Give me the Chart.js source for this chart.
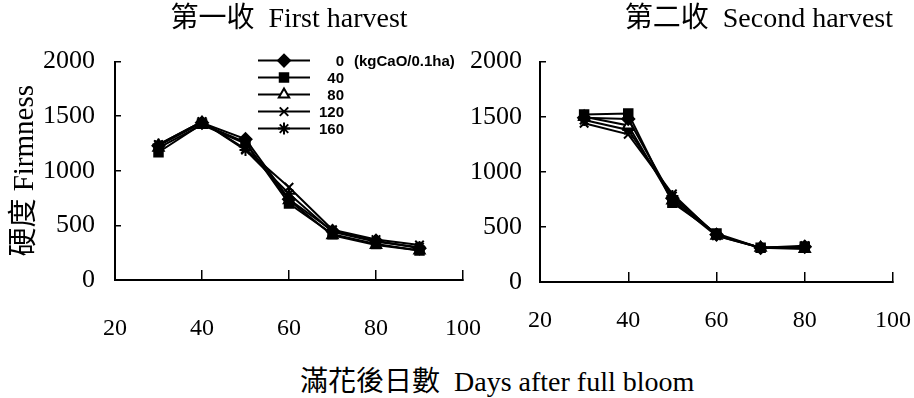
<!DOCTYPE html>
<html>
<head>
<meta charset="utf-8">
<script src="https://cdn.jsdelivr.net/npm/chart.js@4"></script>
<style>
  body { margin: 0; background: #fff; width: 914px; height: 398px; position: relative; overflow: hidden; }
  #c1 { position: absolute; left: 0; top: 0; }
  #c2 { position: absolute; left: 440px; top: 0; }
  #xtitle { position: absolute; left: 300px; top: 364px; font: 28px/36px "Liberation Serif", "Noto Sans CJK TC"; color: #000; white-space: nowrap; }
</style>
</head>
<body>
<canvas id="c1" width="525" height="350"></canvas>
<canvas id="c2" width="505" height="350"></canvas>
<div id="xtitle">滿花後日數&nbsp; Days after full bloom</div>
<script>
// days after full bloom
const days1 = [30, 40, 50, 60, 70, 80, 90];
const days2 = [30, 40, 50, 60, 70, 80];
// lime rates (kgCaO/0.1ha)
const rates = ["0", "40", "80", "120", "160"];

// first harvest firmness
const first0 = [1230, 1440, 1290, 740, 450, 360, 290];
const first40 = [1170, 1430, 1260, 700, 420, 330, 270];
const first80 = [1210, 1420, 1250, 730, 410, 320, 270];
const first120 = [1240, 1450, 1200, 850, 460, 370, 320];
const first160 = [1240, 1450, 1190, 790, 440, 350, 300];

// second harvest firmness
const second0 = [1490, 1480, 760, 430, 310, 320];
const second40 = [1520, 1530, 720, 440, 310, 320];
const second80 = [1500, 1420, 740, 420, 310, 300];
const second120 = [1440, 1340, 800, 420, 310, 330];
const second160 = [1470, 1380, 780, 430, 310, 320];

const styles = ["rectRot", "rect", "triangle", "crossRot", "star"];
const fills = ["#000", "#000", "#fff", "#000", "#000"];

const serif = '"Liberation Serif", "Noto Sans CJK TC", serif';

function makeSets(days, series) {
  return series.map((vals, i) => ({
    label: rates[i],
    data: vals.map((v, j) => ({ x: days[j], y: v })),
    borderColor: "#000",
    borderWidth: 2,
    pointStyle: styles[i],
    pointRadius: 6,
    pointBackgroundColor: fills[i],
    pointBorderColor: "#000",
    pointBorderWidth: 2,
    tension: 0,
  }));
}

// legend drawn as line + marker, inside the first chart
const lineLegend = {
  id: "lineLegend",
  afterDatasetsDraw(chart) {
    if (!chart.options.plugins.lineLegend.show) return;
    const ctx = chart.ctx;
    const a = chart.chartArea;
    ctx.save();
    chart.data.datasets.forEach((ds, i) => {
      const y = a.top - 1 + i * 17;
      const x0 = a.left + 143;
      ctx.strokeStyle = "#000";
      ctx.lineWidth = 2;
      ctx.beginPath();
      ctx.moveTo(x0, y);
      ctx.lineTo(x0 + 52, y);
      ctx.stroke();
      ctx.fillStyle = ds.pointBackgroundColor;
      Chart.helpers.drawPoint(ctx, { pointStyle: ds.pointStyle, radius: ds.pointRadius, rotation: 0, borderWidth: 2 }, x0 + 26, y);
      ctx.fillStyle = "#000";
      ctx.font = 'bold 15px "Liberation Sans", sans-serif';
      ctx.textAlign = "right";
      ctx.textBaseline = "middle";
      ctx.fillText(ds.label, x0 + 86, y + 1);
      if (i === 0) {
        ctx.textAlign = "left";
        ctx.fillText("(kgCaO/0.1ha)", x0 + 96, y + 1);
      }
    });
    ctx.restore();
  },
};

function makeChart(id, days, series, opts) {
  return new Chart(document.getElementById(id), {
    type: "line",
    data: { datasets: makeSets(days, series) },
    plugins: [lineLegend],
    options: {
      responsive: false,
      animation: false,
      layout: { padding: 0 },
      plugins: {
        legend: { display: false },
        tooltip: { enabled: false },
        lineLegend: { show: opts.legend },
        title: {
          display: true,
          text: opts.title,
          fullSize: false,
          align: opts.titleAlign,
          color: "#000",
          font: { family: serif, size: 28, weight: "normal" },
          padding: { top: 3, bottom: 25 },
        },
      },
      scales: {
        x: {
          type: "linear",
          min: 20,
          max: 100,
          ticks: { stepSize: 20, color: "#000", font: { family: serif, size: 24 }, padding: opts.xPad, maxRotation: 0 },
          grid: { drawOnChartArea: false, drawTicks: true, tickLength: -10, color: "#000", lineWidth: 1.5 },
          border: { color: "#000", width: 2 },
          afterFit(s) { s.height = opts.xHeight; },
        },
        y: {
          min: 0,
          max: 2000,
          ticks: { stepSize: 500, color: "#000", font: { family: serif, size: 26 }, padding: opts.yPad, callback: (v) => String(v) },
          grid: { drawOnChartArea: false, drawTicks: true, tickLength: -6, color: "#000", lineWidth: 1.5 },
          border: { color: "#000", width: 2 },
          title: {
            display: opts.yTitle,
            text: "硬度 Firmness",
            color: "#000",
            font: { family: serif, size: 29 },
            padding: { top: 8, bottom: 0 },
          },
          afterFit(s) { s.width = opts.yWidth; },
        },
      },
    },
  });
}

makeChart("c1", days1, [first0, first40, first80, first120, first160], {
  title: "第一收  First harvest", titleAlign: "center", legend: true, yTitle: true,
  yWidth: 115, yPad: 26, xPad: 44, xHeight: 70,
});
makeChart("c2", days2, [second0, second40, second80, second120, second160], {
  title: "第二收  Second harvest", titleAlign: "end", legend: false, yTitle: false,
  yWidth: 100, yPad: 24, xPad: 34, xHeight: 68,
});
</script>
</body>
</html>
